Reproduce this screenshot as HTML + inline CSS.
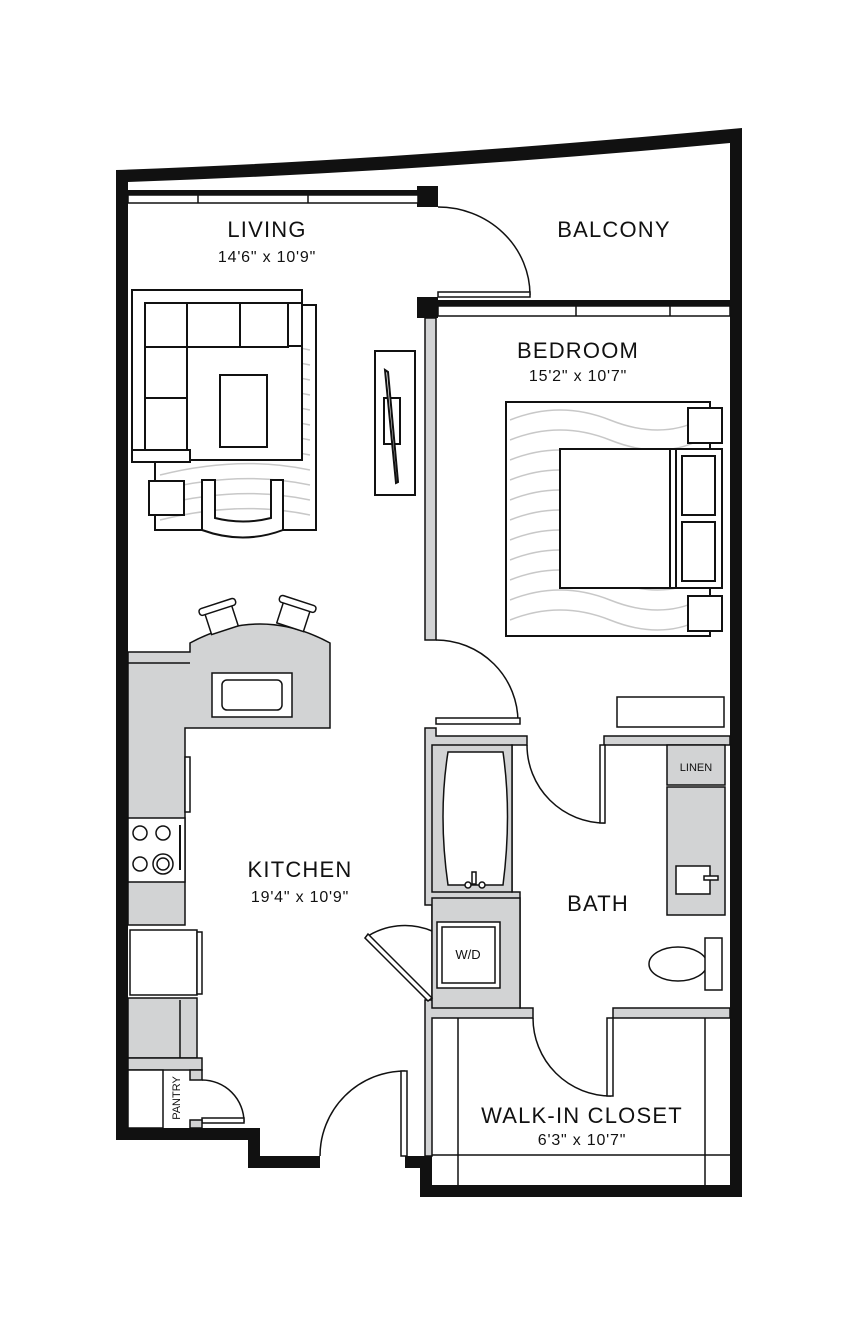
<!DOCTYPE html>
<html><head><meta charset="utf-8"><style>
html,body{margin:0;padding:0;background:#fff;}
svg{display:block}
text{font-family:"Liberation Sans Narrow","Liberation Sans",sans-serif;fill:#111;}
</style></head><body>
<svg width="857" height="1336" viewBox="0 0 857 1336" xmlns="http://www.w3.org/2000/svg">
<g fill="none" stroke="#111" stroke-width="2">
<g stroke="#c8c8c8" stroke-width="1.5">
 <rect x="155" y="305" width="161" height="225" fill="#fff" stroke="#111" stroke-width="2"/>
 <path d="M190 340 Q240 320 300 335 M190 355 Q240 335 310 350 M190 370 Q240 350 310 365 M190 385 Q240 365 310 380 M190 400 Q240 380 310 395 M190 415 Q240 395 310 410 M190 430 Q240 410 310 425 M190 445 Q240 425 310 440 M160 460 Q240 440 310 455 M160 475 Q240 455 310 470 M160 490 Q240 470 310 485 M160 505 Q240 485 310 500 M160 520 Q240 500 310 515"/>
 <rect x="506" y="402" width="204" height="234" fill="#fff" stroke="#111" stroke-width="2"/>
 <path d="M510 420 Q560 400 610 420 T700 420 M510 440 Q560 420 610 440 T700 440 M510 460 Q560 440 610 460 T700 460 M510 480 Q560 460 610 480 T700 480 M510 500 Q560 480 610 500 T700 500 M510 520 Q560 500 610 520 T700 520 M510 540 Q560 520 610 540 T700 540 M510 560 Q560 540 610 560 T700 560 M510 580 Q560 560 610 580 T700 580 M510 600 Q560 580 610 600 T700 600 M510 620 Q560 600 610 620 T700 620"/>
</g>
<rect x="132" y="290" width="170" height="170" fill="#fff"/>
<rect x="145" y="303" width="143" height="44" fill="#fff"/>
<line x1="187" y1="303" x2="187" y2="347"/><line x1="240" y1="303" x2="240" y2="347"/>
<rect x="288" y="303" width="14" height="43" fill="#fff"/>
<rect x="145" y="347" width="42" height="103" fill="#fff"/>
<line x1="145" y1="398" x2="187" y2="398"/>
<rect x="132" y="450" width="58" height="12" fill="#fff"/>
<rect x="220" y="375" width="47" height="72" fill="#fff"/>
<rect x="149" y="481" width="35" height="34" fill="#fff"/>
<path d="M202 480 L215 480 L215 518 Q243 525 271 518 L271 480 L283 480 L283 530 Q243 545 202 530 Z" fill="#fff"/>
<rect x="375" y="351" width="40" height="144" fill="#fff"/>
<rect x="384" y="398" width="16" height="46"/>
<path d="M385 370 L388 372 L398 482 L396 483 Z" fill="#fff"/>
<rect x="688" y="408" width="34" height="35" fill="#fff"/>
<rect x="688" y="596" width="34" height="35" fill="#fff"/>
<rect x="560" y="449" width="162" height="139" fill="#fff"/>
<line x1="670" y1="449" x2="670" y2="588"/><line x1="676" y1="449" x2="676" y2="588"/>
<rect x="682" y="456" width="33" height="59"/><rect x="682" y="522" width="33" height="59"/>
</g>
<g fill="#111">
<path d="M116 170 Q400 160 742 128 L742 1197 L420 1197 L420 1168 L432 1168 L432 1185 L730 1185 L730 143 Q420 172 128 182 L128 1128 L260 1128 L260 1156 L320 1156 L320 1168 L248 1168 L248 1140 L116 1140 Z"/>
<rect x="405" y="1156" width="27" height="12"/>
<rect x="417" y="186" width="21" height="21"/>
<rect x="417" y="297" width="21" height="21"/>
<rect x="128" y="190" width="290" height="5"/>
<rect x="438" y="300" width="292" height="6"/>
</g>
<g fill="none" stroke="#111" stroke-width="1.5">
<rect x="128" y="195" width="290" height="8" fill="#fff"/>
<line x1="198" y1="195" x2="198" y2="203"/><line x1="308" y1="195" x2="308" y2="203"/>
<rect x="438" y="306" width="292" height="10" fill="#fff"/>
<line x1="576" y1="306" x2="576" y2="316"/><line x1="670" y1="306" x2="670" y2="316"/>
<path d="M438 207 A92 88 0 0 1 530 295"/>
<rect x="438" y="292" width="92" height="5" fill="#fff"/>
</g>
<g fill="#d2d3d4" stroke="#111" stroke-width="1.5">
<rect x="425" y="318" width="11" height="322"/>
<path d="M425 728 L436 728 L436 736 L527 736 L527 745 L512 745 L512 892 L520 892 L520 1008 L533 1008 L533 1018 L432 1018 L432 1156 L425 1156 L425 1000 L432 1000 L432 905 L425 905 Z"/>
<rect x="432" y="745" width="80" height="147"/>
<rect x="432" y="898" width="88" height="110"/>
<path d="M604 736 L730 736 L730 745 L604 745 Z"/>
<path d="M613 1008 L730 1008 L730 1018 L613 1018 Z"/>
<rect x="667" y="745" width="58" height="40"/>
<rect x="667" y="787" width="58" height="128"/>
<path d="M128 652 L190 652 L190 643 Q260 605 330 643 L330 728 L185 728 L185 925 L128 925 Z"/>
<rect x="128" y="998" width="69" height="60"/>
<rect x="128" y="1058" width="74" height="12"/>
</g>
<g fill="#fff" stroke="#111" stroke-width="1.5">
<path d="M128 663 L190 663" fill="none"/>
<rect x="212" y="673" width="80" height="44"/>
<rect x="222" y="680" width="60" height="30" rx="5"/>
<g transform="translate(220 615) rotate(-18)"><rect x="-14" y="-8" width="28" height="24"/><rect x="-19" y="-12" width="38" height="7" rx="3"/></g>
<g transform="translate(295 612) rotate(18)"><rect x="-14" y="-8" width="28" height="24"/><rect x="-19" y="-12" width="38" height="7" rx="3"/></g>
<rect x="185" y="757" width="5" height="55"/>
<rect x="128" y="818" width="57" height="64"/>
<circle cx="140" cy="833" r="7"/><circle cx="163" cy="833" r="7"/>
<circle cx="140" cy="864" r="7"/><circle cx="163" cy="864" r="10"/><circle cx="163" cy="864" r="6"/>
<line x1="180" y1="825" x2="180" y2="870" stroke-width="2"/>
<rect x="130" y="930" width="67" height="65"/>
<rect x="197" y="932" width="5" height="62"/>
<line x1="180" y1="1000" x2="180" y2="1058"/>
<rect x="128" y="1070" width="35" height="58"/>
<path d="M202 1080 A42 42 0 0 1 244 1122" fill="none"/>
<rect x="202" y="1118" width="42" height="5"/>
<rect x="190" y="1070" width="12" height="10" fill="#d2d3d4"/>
<rect x="190" y="1120" width="12" height="8" fill="#d2d3d4"/>
<path d="M320 1156 A85 85 0 0 1 405 1071" fill="none"/>
<rect x="401" y="1071" width="6" height="85"/>
<path d="M436 640 A82 82 0 0 1 518 722" fill="none"/>
<rect x="436" y="718" width="84" height="6"/>
<path d="M527 745 A78 78 0 0 0 605 823" fill="none"/>
<rect x="600" y="745" width="5" height="78"/>
<path d="M533 1018 A78 78 0 0 0 611 1096" fill="none"/>
<rect x="607" y="1018" width="6" height="78"/>
<path d="M432 931 A70 70 0 0 0 365 938" fill="none"/>
<path d="M365 938 L368 934 L432 998 L428 1001 Z"/>
<path d="M448 752 L503 752 Q512 815 503 885 L448 885 Q438 815 448 752 Z"/>
<circle cx="468" cy="885" r="3"/><circle cx="482" cy="885" r="3"/>
<rect x="472" y="872" width="4" height="12"/>
<rect x="437" y="922" width="63" height="66"/>
<rect x="442" y="927" width="53" height="56"/>
<rect x="676" y="866" width="34" height="28"/>
<rect x="704" y="876" width="14" height="4"/>
<ellipse cx="678" cy="964" rx="29" ry="17"/>
<rect x="705" y="938" width="17" height="52"/>
<rect x="617" y="697" width="107" height="30"/>
<line x1="458" y1="1018" x2="458" y2="1185"/>
<line x1="705" y1="1018" x2="705" y2="1185"/>
<line x1="432" y1="1155" x2="730" y2="1155"/>
</g>
<g font-size="22" text-anchor="middle" letter-spacing="1.2">
<text x="267" y="237">LIVING</text>
<text x="614" y="237">BALCONY</text>
<text x="578" y="358">BEDROOM</text>
<text x="300" y="877">KITCHEN</text>
<text x="598" y="911">BATH</text>
<text x="582" y="1123">WALK-IN CLOSET</text>
</g>
<g font-size="16" text-anchor="middle" letter-spacing="0.8">
<text x="267" y="262">14'6" x 10'9"</text>
<text x="578" y="381">15'2" x 10'7"</text>
<text x="300" y="902">19'4" x 10'9"</text>
<text x="582" y="1145">6'3" x 10'7"</text>
</g>
<text x="696" y="771" font-size="11" text-anchor="middle">LINEN</text>
<text x="468" y="959" font-size="13" text-anchor="middle">W/D</text>
<text x="0" y="0" font-size="11" text-anchor="middle" transform="translate(180 1098) rotate(-90)">PANTRY</text>
</svg>
</body></html>
